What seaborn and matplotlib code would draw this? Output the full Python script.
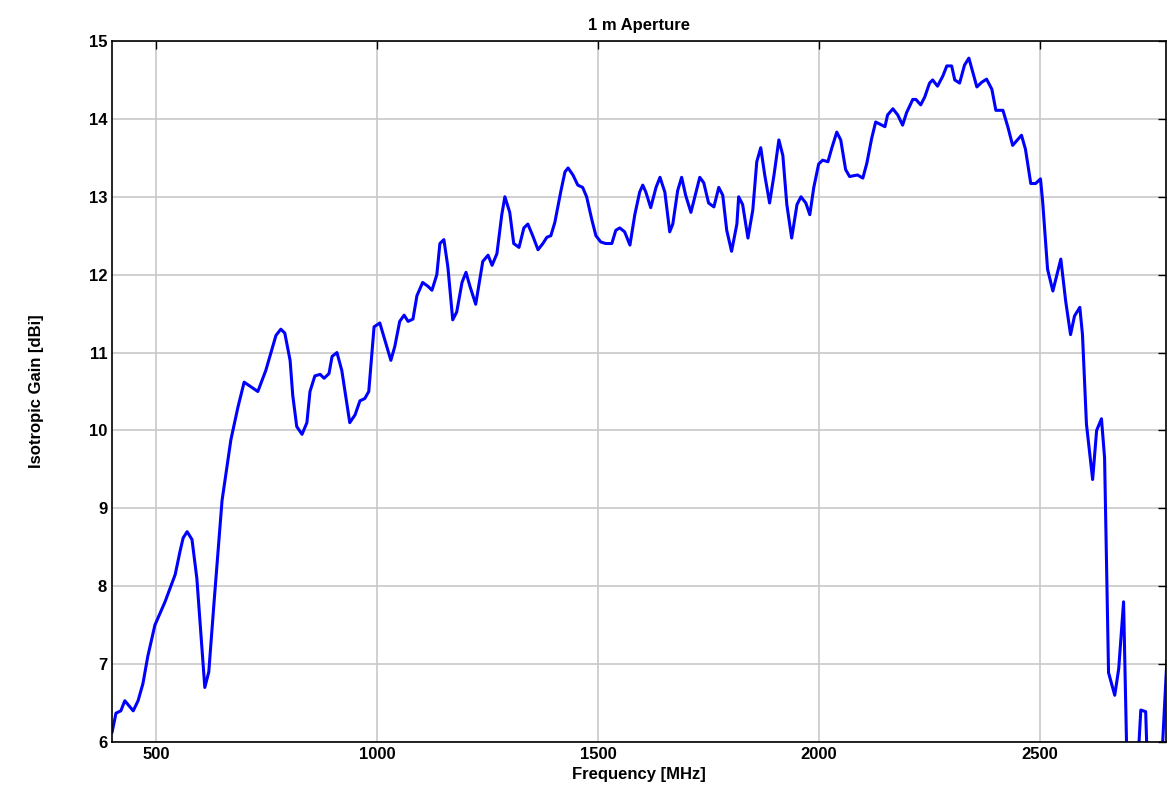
import matplotlib
matplotlib.use("Agg")
import matplotlib.pyplot as plt
import seaborn as sns
import pandas as pd

freq = [400,409,420,429,448,459,470,481,497,520,543,554,561,570,581,592,610,619,631,649,669,685,699,730,748,771,782,791,803,809,818,830,841,848,859,871,880,891,898,909,920,938,950,961,972,981,993,1006,1031,1040,1051,1061,1070,1081,1090,1103,1115,1124,1135,1142,1151,1160,1171,1180,1192,1201,1210,1223,1239,1251,1260,1271,1282,1289,1300,1309,1321,1332,1341,1352,1364,1375,1384,1393,1402,1416,1425,1432,1443,1454,1465,1474,1486,1495,1506,1517,1531,1540,1549,1560,1572,1583,1594,1601,1608,1619,1631,1640,1651,1662,1669,1680,1689,1698,1710,1721,1730,1739,1750,1762,1773,1782,1791,1802,1814,1818,1827,1839,1850,1859,1868,1877,1888,1898,1909,1918,1927,1938,1950,1959,1970,1979,1988,1999,2008,2020,2029,2040,2049,2060,2069,2087,2099,2108,2119,2128,2149,2155,2167,2178,2189,2198,2212,2219,2230,2239,2250,2257,2268,2280,2289,2300,2307,2318,2329,2339,2357,2368,2379,2391,2400,2416,2427,2438,2458,2467,2479,2490,2501,2506,2517,2529,2547,2558,2569,2578,2590,2596,2605,2619,2628,2639,2646,2655,2669,2678,2689,2696,2707,2719,2728,2739,2744,2759,2773,2787]
gain = [6.12,6.37,6.4,6.53,6.4,6.53,6.75,7.1,7.5,7.8,8.15,8.45,8.62,8.7,8.6,8.1,6.7,6.9,7.8,9.1,9.88,10.3,10.62,10.5,10.77,11.22,11.3,11.25,10.9,10.45,10.05,9.95,10.1,10.5,10.7,10.72,10.67,10.73,10.95,11.0,10.77,10.1,10.2,10.38,10.41,10.5,11.33,11.38,10.9,11.08,11.4,11.48,11.4,11.43,11.73,11.9,11.85,11.8,12.0,12.4,12.45,12.1,11.42,11.52,11.9,12.03,11.85,11.62,12.17,12.25,12.12,12.27,12.77,13.0,12.8,12.4,12.35,12.6,12.65,12.5,12.32,12.4,12.48,12.5,12.67,13.08,13.32,13.37,13.28,13.15,13.12,13.0,12.7,12.5,12.42,12.4,12.4,12.57,12.6,12.55,12.38,12.77,13.06,13.15,13.06,12.86,13.12,13.25,13.06,12.55,12.65,13.08,13.25,13.02,12.8,13.05,13.25,13.18,12.92,12.87,13.12,13.02,12.57,12.3,12.65,13.0,12.9,12.47,12.83,13.45,13.63,13.28,12.92,13.28,13.73,13.53,12.9,12.47,12.9,13.0,12.92,12.77,13.12,13.42,13.47,13.45,13.63,13.83,13.73,13.35,13.26,13.28,13.24,13.43,13.75,13.96,13.9,14.05,14.13,14.05,13.92,14.08,14.25,14.25,14.18,14.28,14.46,14.5,14.42,14.55,14.68,14.68,14.5,14.46,14.69,14.78,14.41,14.47,14.51,14.38,14.11,14.11,13.9,13.66,13.79,13.61,13.17,13.17,13.23,12.93,12.07,11.79,12.2,11.66,11.23,11.47,11.58,11.23,10.08,9.37,10.0,10.15,9.65,6.89,6.6,6.94,7.8,5.9,5.0,5.5,6.41,6.39,5.5,5.0,5.5,7.05]

df = pd.DataFrame({"freq": freq, "gain": gain})

sns.set_style("white")
plt.rcParams['font.family'] = ['Liberation Sans', 'DejaVu Sans']
plt.rcParams['font.weight'] = 'bold'
plt.rcParams['text.color'] = 'black'
plt.rcParams['axes.labelcolor'] = 'black'
plt.rcParams['xtick.color'] = 'black'
plt.rcParams['ytick.color'] = 'black'

fig = plt.figure(figsize=(11.68, 8.10), dpi=100)
ax = fig.add_axes([112/1168, 1-742/810, (1166-112)/1168, (742-41)/810])
sns.lineplot(data=df, x="freq", y="gain", ax=ax, color="#0000ff", linewidth=2.2)
ax.set_xlim(400, 2785)
ax.set_ylim(6, 15)
ax.set_xticks([500, 1000, 1500, 2000, 2500])
ax.set_yticks(range(6, 16))
ax.grid(True, color="#c8c8c8", linewidth=1.2)
ax.tick_params(direction="in", length=6, labelsize=12, top=True, right=True, labeltop=False, labelright=False, color="black", width=1)
for lab in ax.get_xticklabels() + ax.get_yticklabels():
    lab.set_fontweight("bold")
for s in ax.spines.values():
    s.set_color("black")
    s.set_linewidth(1.2)
ax.set_xlabel("Frequency [MHz]", fontsize=12, fontweight="bold", labelpad=4)
ax.set_ylabel("Isotropic Gain [dBi]", fontsize=12, fontweight="bold", labelpad=32)
ax.set_title("1 m Aperture", fontsize=12, fontweight="bold", pad=8)
fig.savefig("out.png", dpi=100)
